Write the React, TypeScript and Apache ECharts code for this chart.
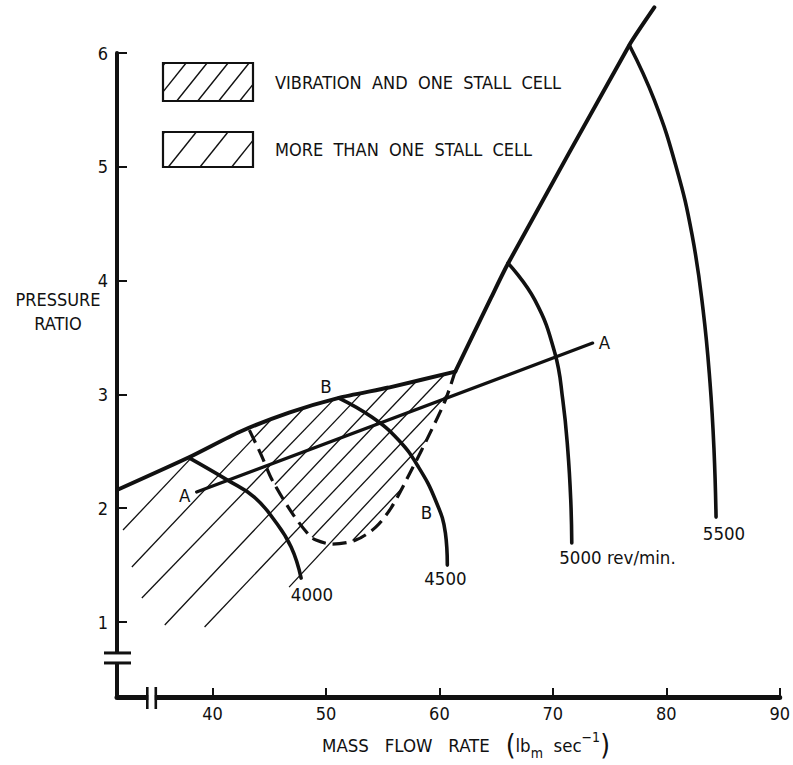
import React, { useEffect, useRef } from "react";
import * as echarts from "echarts";

// ---- data (mass flow rate lbm/s, pressure ratio) ----
const xTickValues = [40, 50, 60, 70, 80, 90];
const yTickValues = [1, 2, 3, 4, 5, 6];

const surgeLine = [[31.58, 2.16], [37.98, 2.45], [42.37, 2.67], [46.75, 2.84], [51.14, 2.97], [55.53, 3.06], [61.4, 3.2]];
const steepLine = [[61.4, 3.2], [64.56, 3.85], [66.05, 4.15], [76.75, 6.07], [78.95, 6.4]];
const stallBoundary = [
  [43.25, 2.686], [44.3, 2.467], [45.26, 2.247], [47.02, 1.957], [48.51, 1.764], [49.12, 1.72],
  [50.53, 1.685], [52.63, 1.72], [54.39, 1.834], [55.79, 2.01], [57.54, 2.335], [59.3, 2.686],
  [60.53, 2.95], [61.4, 3.205],
];
const lineA = [[38.6, 2.142], [73.51, 3.451]];
const speed4000 = [[37.98, 2.44], [41.32, 2.247], [43.68, 2.098], [45.44, 1.896], [46.93, 1.659], [47.81, 1.386]];
const speed4500 = [[51.14, 2.968], [54.04, 2.801], [56.4, 2.599], [58.16, 2.361], [59.65, 2.072], [60.53, 1.782], [60.7, 1.5]];
const speed5000 = [[66.05, 4.153], [68.42, 3.828], [70.18, 3.363], [70.88, 2.95], [71.32, 2.511], [71.58, 2.072], [71.67, 1.694]];
const speed5500 = [[76.75, 6.068], [78.95, 5.585], [80.88, 4.996], [82.28, 4.399], [83.25, 3.74], [83.86, 3.099], [84.21, 2.511], [84.39, 1.922]];

// hatch segments: [x1, y1, x2, y2]
const hatchSegments = [
  [32.11, 1.808, 38.38, 2.469],
  [32.89, 1.483, 45.2, 2.782],
  [33.77, 1.211, 50.68, 2.954],
  [35.79, 0.974, 55.58, 3.065],
  [39.3, 0.956, 60.54, 3.184],
  [46.75, 1.307, 58.89, 2.606],
  [44.25, 2.478, 48.07, 2.881],
  [45.5, 2.208, 53.15, 3.011],
  [46.98, 1.962, 58.06, 3.125],
  [48.78, 1.745, 60.68, 2.997],
  [52.35, 1.716, 56.63, 2.166],
];

const labelTexts = ["A", "A", "B", "B", "4000", "4500", "5000 rev/min.", "5500"];
const labelX = [37.54, 74.56, 50.0, 58.86, 48.77, 60.53, 75.7, 85.09];
const labelY = [2.115, 3.459, 3.07, 1.966, 1.246, 1.386, 1.571, 1.782];

const legendTexts = ["VIBRATION  AND  ONE  STALL  CELL", "MORE  THAN  ONE  STALL  CELL"];

const FONT = '"DejaVu Sans Condensed", "DejaVu Sans", sans-serif';
const INK = "#111";

function hatchRect(x0: number, y0: number, w: number, h: number, k: number, spacing: number, phase: number) {
  const els: any[] = [];
  const dxTop = h / k;
  let a = phase;
  while (a + dxTop > x0) a -= spacing;
  for (; a < x0 + w; a += spacing) {
    if (a + dxTop <= x0) continue;
    let sx = a, sy = y0 + h;
    if (a < x0) { sx = x0; sy = y0 + h - k * (x0 - a); }
    let ex = a + dxTop, ey = y0;
    if (ex > x0 + w) { ex = x0 + w; ey = y0 + h - k * (x0 + w - a); }
    els.push({ type: "line", shape: { x1: sx, y1: sy, x2: ex, y2: ey }, style: { stroke: INK, lineWidth: 1.4 }, z: 100 });
  }
  els.push({ type: "rect", shape: { x: x0, y: y0, width: w, height: h }, style: { fill: null, stroke: INK, lineWidth: 2.2 }, z: 101 });
  return els;
}

export default function App() {
  const ref = useRef<HTMLDivElement>(null);
  useEffect(() => {
    if (!ref.current) return;
    const chart = echarts.init(ref.current, null, { renderer: "svg" });
    const curve = (data: number[][], width: number, extra: any = {}) => ({
      type: "line",
      data,
      symbol: "none",
      smooth: 0.45,
      silent: true,
      clip: false,
      lineStyle: { color: INK, width, cap: "round" },
      z: 5,
      ...extra,
    });
    const option: any = {
      animation: false,
      backgroundColor: "#fff",
      grid: { left: 117, right: 9, top: 53, bottom: 68, containLabel: false },
      xAxis: {
        type: "value",
        min: 31.58,
        max: 90,
        splitLine: { show: false },
        axisLine: { show: true, onZero: false, lineStyle: { color: INK, width: 5 } },
        axisTick: { show: true, inside: true, length: 9, customValues: xTickValues, lineStyle: { color: INK, width: 2 } },
        axisLabel: { customValues: xTickValues, color: INK, fontSize: 18, fontFamily: FONT, margin: 7 },
      },
      yAxis: {
        type: "value",
        min: 0.341,
        max: 6,
        splitLine: { show: false },
        axisLine: { show: true, onZero: false, lineStyle: { color: INK, width: 4 } },
        axisTick: { show: true, inside: true, length: 10, customValues: yTickValues, lineStyle: { color: INK, width: 2 } },
        axisLabel: { customValues: yTickValues, color: INK, fontSize: 18, fontFamily: FONT, margin: 9 },
      },
      series: [
        {
          type: "lines",
          coordinateSystem: "cartesian2d",
          silent: true,
          lineStyle: { color: INK, width: 1.3, opacity: 1 },
          data: hatchSegments.map((s) => ({ coords: [[s[0], s[1]], [s[2], s[3]]] })),
          z: 3,
        },
        curve(surgeLine, 4, { smooth: 0.2 }),
        curve(steepLine, 4, { smooth: 0.2 }),
        curve(stallBoundary, 3.2, { smooth: 0.3, lineStyle: { color: INK, width: 3.2, type: [14, 7] } }),
        curve(lineA, 3.2, { smooth: false }),
        curve(speed4000, 3.6),
        curve(speed4500, 3.6),
        curve(speed5000, 3.6),
        curve(speed5500, 3.6),
        {
          type: "scatter",
          silent: true,
          symbolSize: 0,
          itemStyle: { color: INK, opacity: 1 },
          label: {
            show: true,
            position: "inside",
            color: INK,
            opacity: 1,
            textBorderWidth: 0,
            fontSize: 18.5,
            fontFamily: FONT,
            formatter: (p: any) => labelTexts[p.dataIndex],
          },
          data: labelX.map((x, i) => [x, labelY[i]]),
          z: 10,
        },
      ],
    };
    chart.setOption(option);

    const px = (x: number, y: number) => chart.convertToPixel({ gridIndex: 0 } as any, [x, y]) as number[];
    const yb1 = px(31.58, 0.728);
    const yb2 = px(31.58, 0.64);
    const xb1 = px(34.25, 0.341);
    const xb2 = px(35.0, 0.341);
    const axX = yb1[0];
    const axY = xb1[1];
    const graphic: any[] = [
      // y-axis break
      { type: "rect", shape: { x: axX - 4, y: yb1[1] + 1, width: 8, height: yb2[1] - yb1[1] - 2 }, style: { fill: "#fff" }, z: 100 },
      { type: "line", shape: { x1: axX - 13, y1: yb1[1], x2: axX + 14, y2: yb1[1] }, style: { stroke: INK, lineWidth: 3 }, z: 101 },
      { type: "line", shape: { x1: axX - 13, y1: yb2[1], x2: axX + 14, y2: yb2[1] }, style: { stroke: INK, lineWidth: 3 }, z: 101 },
      // x-axis break
      { type: "rect", shape: { x: xb1[0] + 1, y: axY - 4, width: xb2[0] - xb1[0] - 2, height: 8 }, style: { fill: "#fff" }, z: 100 },
      { type: "line", shape: { x1: xb1[0], y1: axY - 10, x2: xb1[0], y2: axY + 12 }, style: { stroke: INK, lineWidth: 2.6 }, z: 101 },
      { type: "line", shape: { x1: xb2[0], y1: axY - 10, x2: xb2[0], y2: axY + 12 }, style: { stroke: INK, lineWidth: 2.6 }, z: 101 },
      // legend
      ...hatchRect(163, 63, 90, 38, 1.25, 21, 176.7),
      ...hatchRect(163, 132, 90, 35, 1.25, 31.7, 168.3),
      { type: "text", x: 275, y: 82, style: { text: legendTexts[0], fill: INK, font: `18px ${FONT}`, textVerticalAlign: "middle" }, z: 101 },
      { type: "text", x: 275, y: 149, style: { text: legendTexts[1], fill: INK, font: `18px ${FONT}`, textVerticalAlign: "middle" }, z: 101 },
      // axis names
      { type: "text", x: 58, y: 299, style: { text: "PRESSURE", fill: INK, font: `18px ${FONT}`, textAlign: "center", textVerticalAlign: "middle" }, z: 101 },
      { type: "text", x: 58, y: 323, style: { text: "RATIO", fill: INK, font: `18px ${FONT}`, textAlign: "center", textVerticalAlign: "middle" }, z: 101 },
      {
        type: "text",
        x: 466,
        y: 745,
        style: {
          text: "MASS   FLOW   RATE   {p|(}{t|lb}{sub|m}{t|  sec}{sup|−1}{p|)}",
          fill: INK,
          font: `18.5px ${FONT}`,
          textAlign: "center",
          textVerticalAlign: "middle",
          rich: {
            p: { fontSize: 28, fontFamily: FONT, fill: INK, lineHeight: 30 },
            t: { fontSize: 18.5, fontFamily: FONT, fill: INK },
            sub: { fontSize: 14, fontFamily: FONT, fill: INK, verticalAlign: "bottom", padding: [9, 0, 0, 0] },
            sup: { fontSize: 14, fontFamily: FONT, fill: INK, verticalAlign: "top", padding: [0, 0, 9, 0] },
          },
        },
        z: 101,
      },
    ];
    chart.setOption({ graphic });
    return () => chart.dispose();
  }, []);
  return <div ref={ref} style={{ position: "fixed", left: 0, top: 0, width: 793, height: 765, background: "#fff" }} />;
}
